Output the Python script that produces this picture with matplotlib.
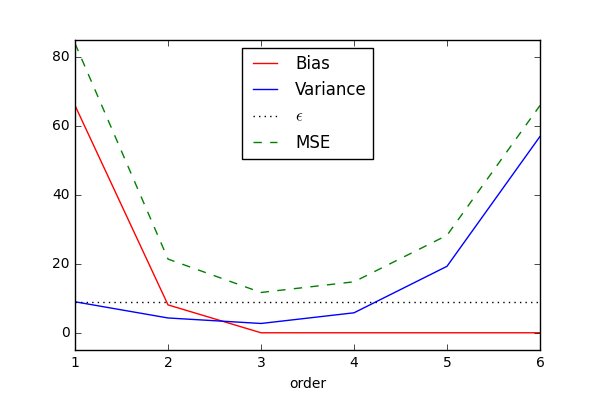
import matplotlib
matplotlib.use("Agg")
import matplotlib.pyplot as plt

plt.style.use("classic")
plt.rcParams["font.size"] = 10
plt.rcParams["legend.fontsize"] = 12

order = [1, 2, 3, 4, 5, 6]
bias = [66.0, 8.1, 0.0, 0.0, 0.0, 0.0]
variance = [9.0, 4.3, 2.7, 5.8, 19.3, 57.0]
eps = [9.0, 9.0, 9.0, 9.0, 9.0, 9.0]
mse = [84.0, 21.4, 11.7, 14.8, 28.3, 66.0]

fig = plt.figure(figsize=(6, 4), dpi=100)
ax = fig.add_axes([0.125, 0.125, 0.775, 0.775])
ax.plot(order, bias, "r-", label="Bias")
ax.plot(order, variance, "b-", label="Variance")
ax.plot(order, eps, "k:", label=r"$\epsilon$")
ax.plot(order, mse, "g--", label="MSE")
ax.set_xlim(1, 6)
ax.set_ylim(-5, 85)
ax.set_xlabel("order")
ax.legend(loc="upper center")
fig.savefig("out.png", dpi=100)
